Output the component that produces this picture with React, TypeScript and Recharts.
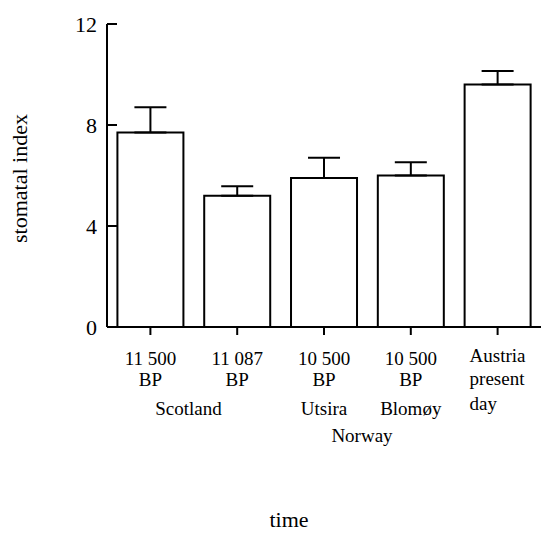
import { BarChart, Bar, XAxis, YAxis, ErrorBar } from 'recharts';

const categories = ['11 500 BP Scotland', '11 087 BP Scotland', '10 500 BP Utsira', '10 500 BP Blomøy', 'Austria present day'];
const indexValues = [7.7, 5.2, 5.9, 6.0, 9.6];
const indexErrors = [1.0, 0.37, 0.8, 0.52, 0.54];
const yTicks = [0, 4, 8, 12];

const labelLine1 = ['11 500', '11 087', '10 500', '10 500', 'Austria'];
const labelLine2 = ['BP', 'BP', 'BP', 'BP', 'present'];
const labelLine3 = ['', '', 'Utsira', 'Blomøy', 'day'];
const groupLabels = [
  { text: 'Scotland', first: 0, row: 3 },
  { text: 'Norway', first: 2, row: 4 },
];

const data = categories.map((name, i) => ({
  name,
  value: indexValues[i],
  err: [0, indexErrors[i]],
}));

const FONT = '"Liberation Serif", "Times New Roman", serif';
const rowDy = [0, 36, 57, 86, 113];

function XTick(props: any) {
  const { x, y, payload } = props;
  const i = payload.index;
  const last = i === categories.length - 1;
  const lines = [labelLine1[i], labelLine2[i], labelLine3[i]];
  const axisY = y - 8;
  return (
    <g>
      {lines.map((t, k) =>
        t ? (
          <text
            key={k}
            x={last ? x - 28 : x}
            y={axisY + (last ? [33, 56, 81][k] : rowDy[k + 1])}
            textAnchor={last ? 'start' : 'middle'}
            fontFamily={FONT}
            fontSize={19}
            fill="#000"
          >
            {t}
          </text>
        ) : null
      )}
      {groupLabels
        .filter((g) => g.first === i)
        .map((g) => (
          <text
            key={g.text}
            x={x + 38}
            y={axisY + rowDy[g.row]}
            textAnchor="middle"
            fontFamily={FONT}
            fontSize={19}
            fill="#000"
          >
            {g.text}
          </text>
        ))}
    </g>
  );
}

function YTitle(props: any) {
  const { viewBox } = props;
  const cx = viewBox.x + 19;
  const cy = viewBox.y + viewBox.height / 2 + 3;
  return (
    <text
      x={cx}
      y={cy}
      transform={`rotate(-90, ${cx}, ${cy})`}
      textAnchor="middle"
      dominantBaseline="central"
      fontFamily={FONT}
      fontSize={22}
      fill="#000"
    >
      stomatal index
    </text>
  );
}

function XTitle(props: any) {
  const { viewBox } = props;
  return (
    <text
      x={viewBox.x + 182}
      y={viewBox.y + 200}
      textAnchor="middle"
      fontFamily={FONT}
      fontSize={22}
      fill="#000"
    >
      time
    </text>
  );
}

export default function App() {
  return (
    <div style={{ position: 'absolute', left: 0, top: 0, background: '#fff' }}>
      <BarChart
        width={541}
        height={534}
        data={data}
        margin={{ top: 24, right: 0, left: 0, bottom: 0 }}
        barCategoryGap="12%"
      >
        <XAxis
          dataKey="name"
          height={207}
          interval={0}
          stroke="#000"
          strokeWidth={2}
          tickSize={8}
          tick={<XTick />}
          label={<XTitle />}
        />
        <YAxis
          width={107}
          domain={[0, 12]}
          ticks={yTicks}
          stroke="#000"
          strokeWidth={2}
          tickSize={-10}
          tickMargin={20}
          tick={{ fill: '#000', fontSize: 22, fontFamily: FONT }}
          label={<YTitle />}
        />
        <Bar dataKey="value" fill="#fff" stroke="#000" strokeWidth={2} isAnimationActive={false}>
          <ErrorBar dataKey="err" direction="y" width={16} stroke="#000" strokeWidth={2} />
        </Bar>
      </BarChart>
    </div>
  );
}
